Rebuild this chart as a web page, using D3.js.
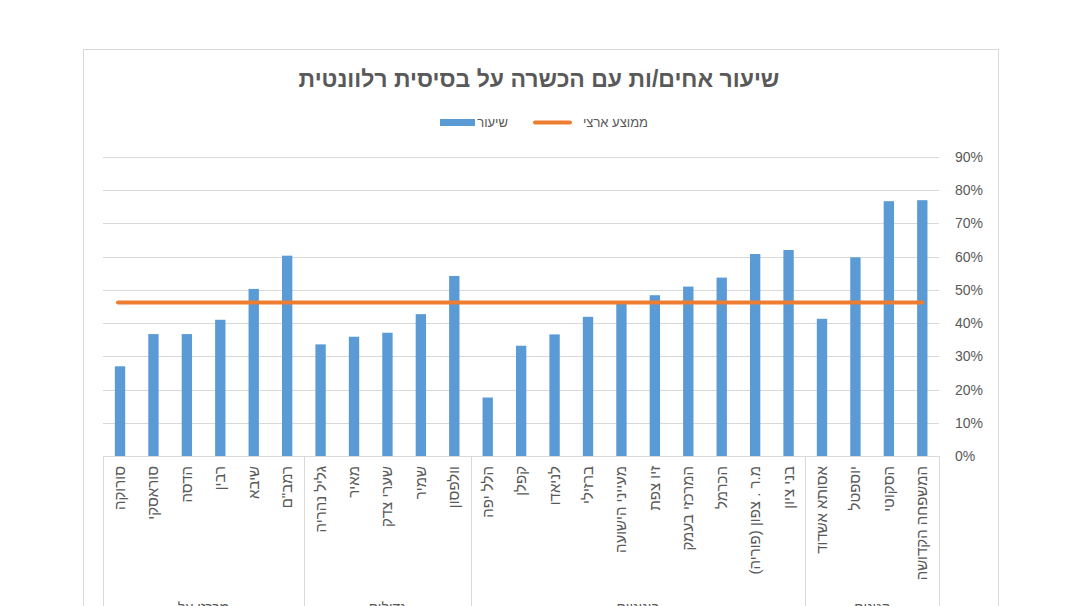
<!DOCTYPE html>
<html><head><meta charset="utf-8">
<script src="https://cdn.jsdelivr.net/npm/d3@7"></script>
<style>body{margin:0;background:#fff;}svg{display:block;}</style>
</head><body>
<svg id="c" width="1080" height="606"></svg>
<script>
const title = "שיעור אחים/ות עם הכשרה  על בסיסית רלוונטית";
const categories = ["סורוקה","סוראסקי","הדסה","רבין","שיבא","רמב\"ם",
  "גליל נהריה","מאיר","שערי צדק","שמיר","וולפסון",
  "הלל יפה","קפלן","לניאדו","ברזילי","מעייני הישועה","זיו צפת","המרכזי בעמק","הכרמל","מ.ר . צפון (פוריה)","בני ציון",
  "אסותא אשדוד","יוספטל","הסקוטי","המשפחה הקדושה"];
const groups = ["מרכזי על","גדולים","בינוניים","קטנים"];
const groupSizes = [6,5,10,4];
const rateValues = [27,36.7,36.7,41,50.3,60.3,
  33.6,35.9,37.1,42.7,54.2,
  17.6,33.2,36.6,41.9,46.3,48.4,51,53.7,60.8,62,
  41.3,59.8,76.7,77];
const nationalAvg = [46.2];
const yTicks = [0,10,20,30,40,50,60,70,80,90];
const seriesNames = ["שיעור","ממוצע ארצי"];

const svg = d3.select("#c");
const font = "'Liberation Sans', Arial, sans-serif";
const grey = "#595959", light = "#d9d9d9";
const blue = "#5B9BD5", orange = "#ED7D31";

// frame
svg.append("rect").attr("x",83.5).attr("y",49.5).attr("width",915).attr("height",600)
  .attr("fill","#fff").attr("stroke",light);

const x = d3.scaleBand().domain(categories).range([103.3,939]).paddingInner(0.69).paddingOuter(0.345);
const y = d3.scaleLinear().domain([0,90]).range([456,157]);

// gridlines
svg.append("g").selectAll("line").data(yTicks.slice(1)).join("line")
  .attr("x1",103).attr("x2",939).attr("y1",d=>Math.round(y(d))+0.5).attr("y2",d=>Math.round(y(d))+0.5)
  .attr("stroke",light).attr("stroke-width",1);

// y axis labels on right
const yAxis = d3.axisRight(y).tickValues(yTicks).tickFormat(d=>d+"%").tickSize(0).tickPadding(0);
const ya = svg.append("g").attr("transform","translate(955,0)").call(yAxis);
ya.select(".domain").remove();
ya.selectAll("text").attr("font-family",font).attr("font-size",14).attr("fill",grey);

// bars
svg.append("g").selectAll("rect").data(rateValues).join("rect")
  .attr("x",(d,i)=>x(categories[i])).attr("width",x.bandwidth())
  .attr("y",d=>y(d)).attr("height",d=>y(0)-y(d)).attr("fill",blue);

// average line
const step = x.step();
svg.append("line")
  .attr("x1",x(categories[0])+x.bandwidth()/2-2).attr("x2",x(categories[categories.length-1])+x.bandwidth()/2)
  .attr("y1",y(nationalAvg[0])).attr("y2",y(nationalAvg[0]))
  .attr("stroke",orange).attr("stroke-width",4).attr("stroke-linecap","round");

// category axis
svg.append("line").attr("x1",103).attr("x2",939).attr("y1",456.5).attr("y2",456.5).attr("stroke",light);
let idx=0; const bounds=[0];
groupSizes.forEach(s=>{idx+=s;bounds.push(idx);});
const bx = i => 103.3 + i*step;
svg.append("g").selectAll("line").data(bounds).join("line")
  .attr("x1",d=>Math.round(bx(d))+0.5).attr("x2",d=>Math.round(bx(d))+0.5)
  .attr("y1",456).attr("y2",620).attr("stroke",light);

svg.append("g").selectAll("text").data(categories).join("text")
  .attr("transform",d=>`translate(${x(d)+x.bandwidth()/2+5},466) rotate(-90)`)
  .attr("direction","rtl").attr("text-anchor","start")
  .attr("font-family",font).attr("font-size",15).attr("fill",grey).text(d=>d);

svg.append("g").selectAll("text").data(groups).join("text")
  .attr("x",(d,i)=>(bx(bounds[i])+bx(bounds[i+1]))/2).attr("y",612)
  .attr("text-anchor","middle").attr("direction","rtl")
  .attr("font-family",font).attr("font-size",14).attr("fill",grey).text(d=>d);

// title
svg.append("text").attr("x",539).attr("y",87).attr("text-anchor","middle").attr("direction","rtl")
  .attr("font-family",font).attr("font-size",23).attr("font-weight","bold").attr("fill",grey).text(title);

// legend
const lg = svg.append("g").attr("font-family",font).attr("font-size",13).attr("fill",grey);
lg.append("line").attr("x1",535).attr("x2",570).attr("y1",122.5).attr("y2",122.5)
  .attr("stroke",orange).attr("stroke-width",4).attr("stroke-linecap","round");
lg.append("text").attr("x",648).attr("y",127).attr("direction","rtl").attr("text-anchor","start").text(seriesNames[1]);
lg.append("rect").attr("x",440).attr("y",119).attr("width",35).attr("height",7).attr("fill",blue);
lg.append("text").attr("x",508).attr("y",127).attr("direction","rtl").attr("text-anchor","start").text(seriesNames[0]);
</script>
</body></html>
